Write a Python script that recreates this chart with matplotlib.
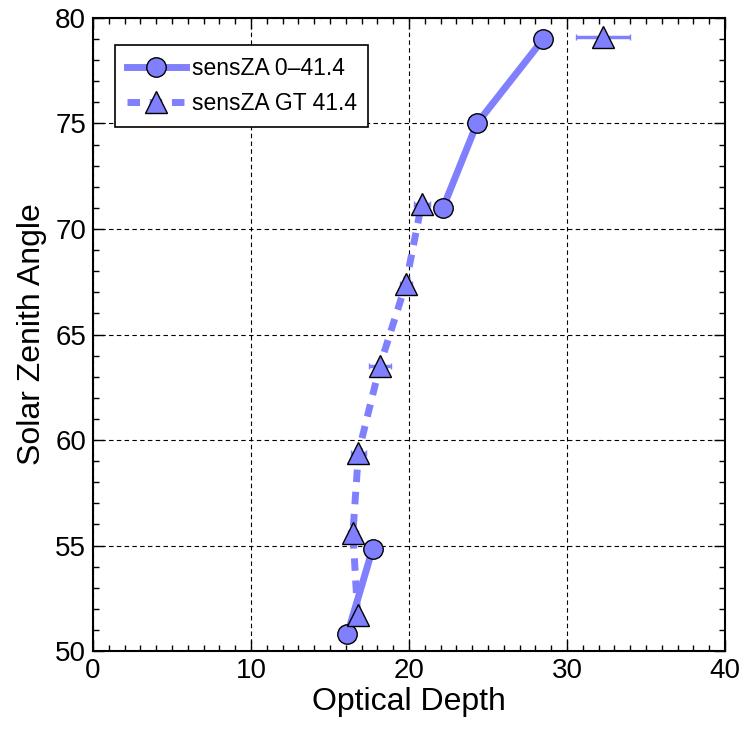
import numpy as np
import matplotlib
matplotlib.use("Agg")
import matplotlib.pyplot as plt

plt.rcParams['font.family'] = ['Liberation Sans', 'DejaVu Sans']

# sensZA 0-41.4 (circles, solid)
od_a = [16.1, 17.7, np.nan, 22.15, 24.3, 28.5]
sza_a = [50.8, 54.85, np.nan, 71.0, 75.0, 79.0]
err_a = [0.3, 0.5, np.nan, 0.4, 0.3, 0.4]

# sensZA GT 41.4 (triangles, dashed)
od_b = [16.75, 16.45, 16.8, 18.15, 19.8, 20.8, np.nan, 32.3]
sza_b = [51.7, 55.6, 59.4, 63.5, 67.4, 71.2, np.nan, 79.1]
err_b = [0.3, 0.3, 0.5, 0.7, 0.4, 0.5, np.nan, 1.7]

color = '#8080ff'

fig = plt.figure(figsize=(7.46, 7.31), dpi=100)
ax = fig.add_axes([0.1247, 0.1094, 0.8471, 0.866])

ax.errorbar(od_a, sza_a, xerr=err_a, fmt='none', ecolor=color, elinewidth=2.5, capsize=2.5, zorder=2)
ax.errorbar(od_b, sza_b, xerr=err_b, fmt='none', ecolor=color, elinewidth=2.5, capsize=2.5, zorder=2)
ax.plot(od_a, sza_a, '-', color=color, lw=5, marker='o', markersize=14,
        markerfacecolor=color, markeredgecolor='black', markeredgewidth=1,
        label='sensZA 0\u201341.4', zorder=3)
ax.plot(od_b, sza_b, '--', color=color, lw=5, dashes=(1.8, 1.4), marker='^', markersize=16,
        markerfacecolor=color, markeredgecolor='black', markeredgewidth=1,
        label='sensZA GT 41.4', zorder=3)

ax.set_xlim(0, 40)
ax.set_ylim(50, 80)
ax.set_xticks([0, 10, 20, 30, 40])
ax.set_yticks([50, 55, 60, 65, 70, 75, 80])
ax.set_xticks(np.arange(0, 41, 1), minor=True)
ax.set_yticks(np.arange(50, 81, 1), minor=True)
ax.tick_params(which='both', direction='in', top=True, right=True, labelsize=20, pad=5)
ax.tick_params(which='major', length=8, width=1)
ax.tick_params(which='minor', length=4, width=1)
ax.grid(True, which='major', color='black', linestyle=(0, (4, 3)), linewidth=0.8)
for s in ax.spines.values():
    s.set_linewidth(1.5)

ax.set_xlabel('Optical Depth', fontsize=23, labelpad=2)
ax.set_ylabel('Solar Zenith Angle', fontsize=23, labelpad=6)

leg = ax.legend(loc='upper left', bbox_to_anchor=(0.035, 0.957), fontsize=16.5, frameon=True,
                fancybox=False, edgecolor='black', handlelength=2.6, framealpha=1,
                borderaxespad=0, handletextpad=0.25, borderpad=0.5, labelspacing=0.55)
leg.get_frame().set_linewidth(1.2)

fig.savefig('out.png', dpi=100)
